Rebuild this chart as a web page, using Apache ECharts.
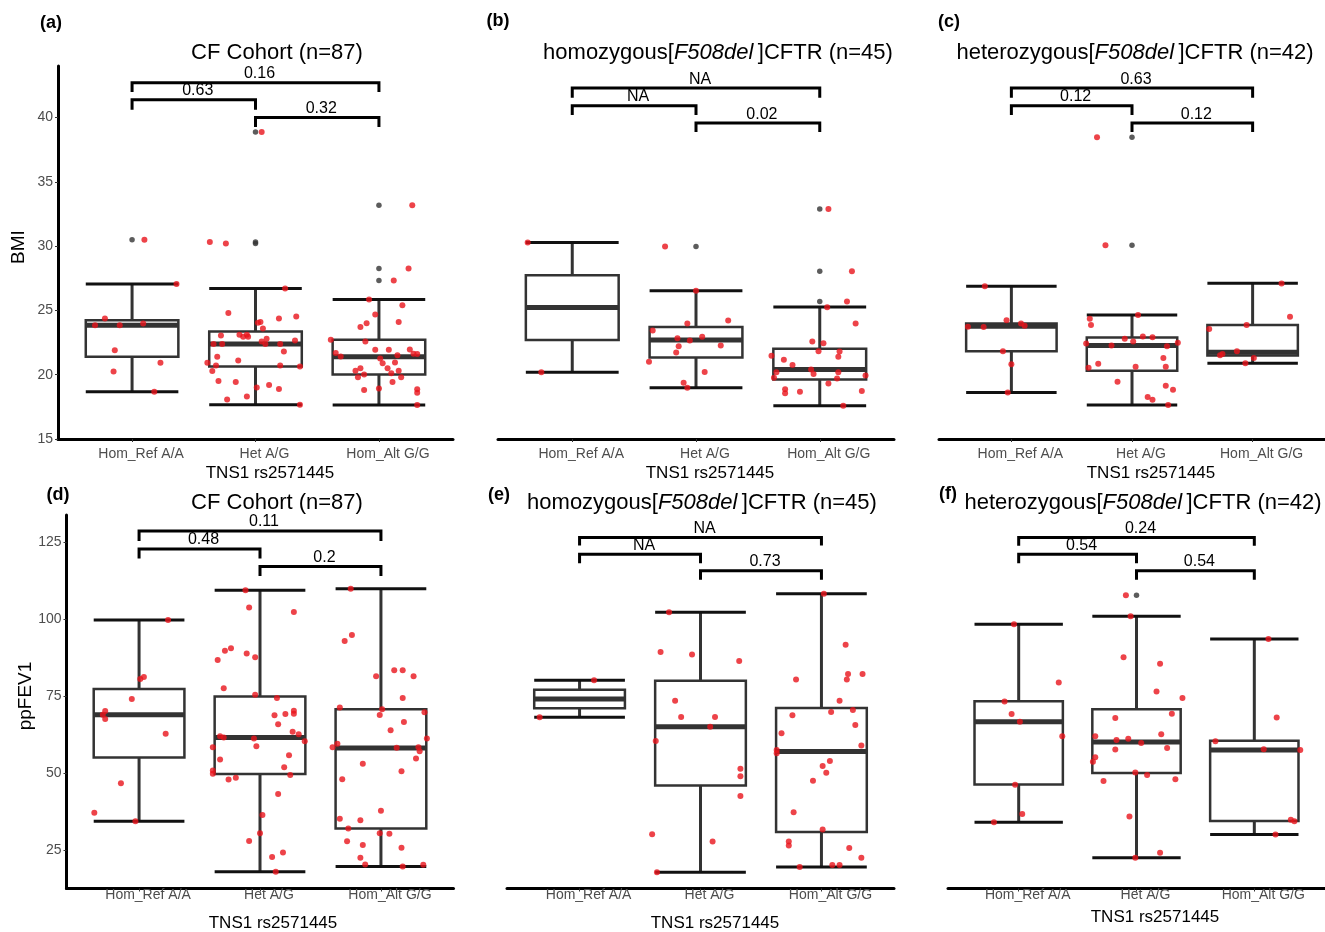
<!DOCTYPE html>
<html>
<head>
<meta charset="utf-8">
<script src="https://cdn.jsdelivr.net/npm/echarts@6/dist/echarts.min.js"></script>
<style>
  html, body { margin: 0; padding: 0; background: #fff; }
  #chart { width: 1325px; height: 932px; }
</style>
</head>
<body>
<div id="chart"></div>
<script>
// genotype groups of TNS1 rs2571445 (x = 1, 2, 3)
const groups = ['Hom_Ref A/A', 'Het A/G', 'Hom_Alt G/G'];
const bmiTicks = [15, 20, 25, 30, 35, 40];
const fevTicks = [25, 50, 75, 100, 125];

// box stats per group: [lower whisker, Q1, median, Q3, upper whisker]
// (a) BMI, CF cohort
const bmiAllBox = [[18.67, 21.39, 23.85, 24.24, 27.06], [17.66, 20.64, 22.38, 23.36, 26.7], [17.64, 20.02, 21.39, 22.71, 25.85]];
const bmiAllOut = [[1, 30.5], [2, 38.86], [2, 30.2], [2, 30.32], [3, 33.17], [3, 28.25], [3, 27.32]];
const bmiAllPts = [
  [1.10, 30.5], [1.36, 27.06], [0.78, 24.37], [0.70, 23.85], [0.90, 23.85], [1.09, 23.98], [0.86, 21.9], [0.85, 20.25], [1.23, 20.93], [1.18, 18.67],
  [2.05, 38.86], [1.63, 30.32], [1.76, 30.2], [2.24, 26.7], [1.78, 24.8], [2.33, 24.52], [2.19, 24.37], [2.02, 24.03], [2.04, 24.1], [2.06, 23.6],
  [1.72, 23.05], [1.87, 23.1], [1.90, 22.95], [1.93, 23.1], [1.94, 22.95], [2.09, 22.8], [2.32, 22.66], [1.66, 22.38], [1.73, 22.38], [2.05, 22.58],
  [2.08, 22.38], [2.20, 22.38], [2.23, 21.8], [1.69, 21.39], [1.86, 21.1], [1.61, 20.93], [1.68, 20.72], [2.20, 20.72], [2.36, 20.64], [1.65, 20.28],
  [1.70, 19.5], [1.84, 19.43], [2.01, 19.01], [2.11, 19.19], [2.19, 18.88], [1.93, 18.31], [1.77, 18.08], [2.36, 17.66],
  [3.27, 33.17], [3.24, 28.25], [3.12, 27.32], [2.92, 25.85], [3.19, 25.4], [2.97, 24.68], [2.90, 24.0], [3.16, 24.1], [2.85, 23.7], [2.61, 22.71],
  [2.89, 22.58], [2.97, 21.93], [3.08, 21.93], [3.25, 21.96], [2.65, 21.68], [2.69, 21.42], [3.15, 21.52], [3.28, 21.62], [3.31, 21.6], [3.01, 21.26],
  [3.03, 20.88], [3.13, 20.95], [2.85, 20.51], [2.81, 20.3], [3.07, 20.51], [3.16, 20.3], [2.83, 19.81], [2.88, 20.02], [3.10, 20.12], [3.18, 19.81],
  [2.88, 18.8], [3.00, 18.93], [3.11, 19.43], [3.31, 18.86], [3.31, 18.6], [3.31, 17.64]
];
// brackets: [from, to, bar y, tip y, p label]
const bmiAllSig = [[1, 3, 42.7, 41.97, '0.16'], [1, 2, 41.37, 40.6, '0.63'], [2, 3, 40.0, 39.25, '0.32']];

// (b) BMI, homozygous F508del
const bmiHomBox = [[20.18, 22.69, 25.22, 27.73, 30.27], [18.98, 21.34, 22.69, 23.7, 26.52], [17.59, 19.63, 20.41, 22.01, 25.27]];
const bmiHomOut = [[2, 29.96], [3, 32.88], [3, 28.04], [3, 25.69]];
const bmiHomPts = [
  [0.64, 30.27], [0.75, 20.18],
  [1.75, 29.96], [2.0, 26.52], [2.26, 24.21], [1.93, 23.98], [1.65, 23.44], [1.85, 22.84], [1.95, 22.66], [2.05, 22.95], [2.20, 22.27], [1.86, 22.22],
  [1.84, 21.73], [1.62, 21.0], [2.07, 20.2], [1.90, 19.37], [1.93, 18.98],
  [3.07, 32.88], [3.26, 28.04], [3.22, 25.69], [3.06, 25.25], [3.29, 23.98], [2.94, 22.58], [3.03, 22.45], [2.99, 21.83], [3.16, 21.8], [2.61, 21.47],
  [3.15, 21.39], [2.71, 21.16], [2.78, 20.75], [2.93, 20.41], [2.95, 20.05], [2.65, 20.18], [3.15, 20.18], [3.37, 19.94], [2.63, 19.76], [3.14, 19.71],
  [3.07, 19.32], [2.72, 18.86], [2.72, 18.55], [2.84, 18.67], [3.34, 18.73], [3.19, 17.59]
];
const bmiHomSig = [[1, 3, 42.28, 41.53, 'NA'], [1, 2, 40.9, 40.2, 'NA'], [2, 3, 39.56, 38.86, '0.02']];

// (c) BMI, heterozygous F508del
const bmiHetBox = [[18.62, 21.83, 23.77, 23.98, 26.88], [17.64, 20.3, 22.27, 22.9, 24.65], [20.88, 21.49, 21.75, 23.87, 27.11]];
const bmiHetOut = [[2, 38.47], [2, 30.06]];
const bmiHetPts = [
  [0.78, 26.88], [0.64, 23.72], [0.77, 23.7], [0.96, 24.24], [1.08, 23.98], [1.11, 23.8], [0.93, 21.83], [1.0, 20.82], [0.97, 18.62],
  [1.71, 38.47], [1.78, 30.06], [2.05, 24.65], [1.65, 24.34], [1.66, 23.87], [1.94, 22.79], [2.01, 22.58], [2.09, 22.97], [2.17, 22.92], [1.62, 22.43],
  [1.83, 22.27], [2.29, 22.22], [2.38, 22.48], [2.26, 21.29], [1.72, 20.85], [1.64, 20.54], [2.03, 20.61], [2.28, 20.61], [1.88, 19.45], [2.28, 19.14],
  [2.34, 18.83], [2.13, 18.26], [2.17, 18.05], [2.30, 17.64],
  [3.24, 27.09], [3.31, 24.5], [2.95, 23.87], [2.64, 23.56], [2.87, 21.83], [2.73, 21.52], [2.75, 21.6], [3.01, 21.29], [2.94, 20.88]
];
const bmiHetSig = [[1, 3, 42.28, 41.53, '0.63'], [1, 2, 40.9, 40.2, '0.12'], [2, 3, 39.56, 38.86, '0.12']];

// (d) ppFEV1, CF cohort
const fevAllBox = [[34.5, 55.1, 69.0, 77.3, 99.7], [18.1, 49.8, 61.6, 74.9, 109.3], [19.8, 32.1, 58.2, 70.8, 109.8]];
const fevAllOut = [];
const fevAllPts = [
  [1.24, 99.7], [1.04, 81.25], [1.01, 80.6], [0.94, 74.1], [0.72, 70.2], [0.70, 69.0], [0.72, 67.6], [1.22, 62.8], [0.85, 46.8], [0.63, 37.2], [0.97, 34.5],
  [1.88, 109.3], [1.91, 103.7], [2.28, 102.3], [1.76, 90.5], [1.71, 89.7], [1.89, 88.8], [1.96, 87.6], [1.65, 86.7], [1.70, 77.6], [1.96, 75.5],
  [2.14, 74.4], [2.28, 70.3], [2.12, 68.8], [2.21, 69.2], [2.28, 69.3], [2.15, 65.9], [2.27, 63.5], [2.32, 62.7], [1.67, 62.0], [1.70, 61.6],
  [1.95, 61.3], [2.37, 60.4], [1.61, 58.5], [1.97, 58.8], [1.67, 54.5], [2.24, 55.9], [2.20, 52.0], [1.61, 50.9], [1.61, 49.9], [2.25, 49.5],
  [1.74, 48.0], [1.80, 48.6], [2.15, 43.3], [2.02, 36.5], [2.0, 30.6], [1.91, 28.1], [2.10, 22.9], [2.19, 24.4], [2.13, 18.1],
  [2.75, 109.8], [2.76, 94.8], [2.70, 92.9], [2.96, 81.5], [3.11, 83.4], [3.18, 83.4], [3.27, 81.5], [3.18, 74.4], [2.66, 71.3], [3.01, 70.8],
  [2.99, 68.9], [3.36, 69.8], [3.19, 66.6], [3.08, 64.0], [3.38, 61.3], [2.60, 58.5], [2.64, 59.6], [3.13, 58.3], [3.31, 58.5], [3.32, 57.2],
  [3.29, 54.8], [2.85, 53.1], [3.17, 50.7], [2.68, 48.1], [3.0, 37.9], [2.66, 35.3], [2.83, 34.8], [2.73, 32.1], [2.99, 30.6], [3.07, 30.4],
  [2.72, 28.0], [2.85, 26.8], [3.17, 25.9], [2.83, 22.7], [2.87, 20.5], [3.18, 19.8], [3.35, 20.4]
];
const fevAllSig = [[1, 3, 128.5, 125.3, '0.11'], [1, 2, 122.7, 119.6, '0.48'], [2, 3, 117.0, 113.9, '0.2']];

// (e) ppFEV1, homozygous F508del
const fevHomBox = [[68.2, 71.1, 74.1, 77.1, 80.2], [18.0, 46.1, 65.1, 80.0, 102.2], [19.7, 31.0, 57.1, 71.2, 108.2]];
const fevHomOut = [];
const fevHomPts = [
  [1.12, 80.2], [0.67, 68.2],
  [1.74, 102.2], [1.67, 89.3], [1.93, 88.5], [2.32, 86.4], [1.79, 73.5], [1.84, 68.3], [2.12, 68.3], [2.08, 65.1], [1.63, 60.5], [2.33, 51.5],
  [2.33, 49.1], [2.33, 42.7], [1.60, 30.3], [2.10, 27.9], [1.64, 18.0],
  [3.02, 108.2], [3.20, 91.7], [3.22, 82.2], [3.34, 82.2], [3.21, 80.4], [2.79, 80.4], [3.15, 73.5], [3.08, 69.9], [3.26, 70.5], [2.76, 68.8],
  [3.28, 65.7], [2.67, 63.0], [3.33, 59.0], [2.63, 57.6], [2.63, 56.5], [3.07, 54.0], [3.01, 52.4], [3.04, 50.2], [2.93, 47.6], [2.77, 37.4],
  [3.01, 31.8], [2.73, 27.9], [2.73, 26.6], [3.23, 25.8], [3.33, 22.7], [2.82, 19.7], [3.09, 20.3], [3.15, 20.3]
];
const fevHomSig = [[1, 3, 126.4, 123.8, 'NA'], [1, 2, 121.0, 118.1, 'NA'], [2, 3, 115.6, 112.7, '0.73']];

// (f) ppFEV1, heterozygous F508del
const fevHetBox = [[34.2, 46.4, 66.7, 73.4, 98.3], [22.7, 50.1, 60.2, 70.8, 100.9], [30.2, 34.6, 57.6, 60.6, 93.5]];
const fevHetOut = [[2, 107.7]];
const fevHetPts = [
  [0.96, 98.3], [1.34, 79.4], [0.88, 73.3], [0.94, 69.2], [1.01, 66.7], [1.37, 62.0], [0.97, 46.3], [1.03, 36.8], [0.79, 34.2],
  [1.91, 107.7], [1.95, 100.9], [1.89, 87.6], [2.20, 85.5], [2.17, 76.5], [2.39, 74.4], [2.30, 69.3], [1.82, 67.9], [1.65, 62.0], [2.21, 62.7],
  [1.83, 60.8], [1.93, 61.2], [2.04, 59.8], [1.82, 57.7], [2.26, 58.2], [1.65, 55.2], [1.63, 53.8], [1.99, 50.3], [2.09, 49.5], [1.72, 47.5],
  [2.33, 48.1], [1.94, 36.0], [2.20, 24.3], [1.99, 22.7],
  [3.12, 93.5], [3.19, 68.1], [2.67, 60.4], [3.08, 57.8], [3.39, 57.6], [3.31, 35.0], [3.34, 34.5], [3.18, 30.2]
];
const fevHetSig = [[1, 3, 126.4, 123.7, '0.24'], [1, 2, 121.0, 118.1, '0.54'], [2, 3, 115.6, 112.7, '0.54']];

const FONT = '"Liberation Sans", Arial, Helvetica, sans-serif';
const RED = '#e8141c';

const panels = [
  { box: bmiAllBox, out: bmiAllOut, pts: bmiAllPts, sig: bmiAllSig, grid: { left: 58, top: 66, width: 395, height: 373 }, y: [15, 44], ticks: bmiTicks, showY: true, labelMargin: 8 },
  { box: bmiHomBox, out: bmiHomOut, pts: bmiHomPts, sig: bmiHomSig, grid: { left: 498, top: 66, width: 396, height: 373 }, y: [15, 44], ticks: bmiTicks, showY: false, labelMargin: 8 },
  { box: bmiHetBox, out: bmiHetOut, pts: bmiHetPts, sig: bmiHetSig, grid: { left: 939, top: 66, width: 395, height: 373 }, y: [15, 44], ticks: bmiTicks, showY: false, labelMargin: 8 },
  { box: fevAllBox, out: fevAllOut, pts: fevAllPts, sig: fevAllSig, grid: { left: 66.5, top: 515, width: 387, height: 373.5 }, y: [12.7, 133.7], ticks: fevTicks, showY: true, labelMargin: 0 },
  { box: fevHomBox, out: fevHomOut, pts: fevHomPts, sig: fevHomSig, grid: { left: 507, top: 515, width: 387, height: 373.5 }, y: [12.7, 133.7], ticks: fevTicks, showY: false, labelMargin: 0 },
  { box: fevHetBox, out: fevHetOut, pts: fevHetPts, sig: fevHetSig, grid: { left: 948, top: 515, width: 387, height: 373.5 }, y: [12.7, 133.7], ticks: fevTicks, showY: false, labelMargin: 0 }
];

function renderBox(params, api) {
  const x = api.value(0);
  const half = 0.375;
  const lo = api.coord([x, api.value(1)]);
  const q1 = api.coord([x, api.value(2)]);
  const med = api.coord([x, api.value(3)]);
  const q3 = api.coord([x, api.value(4)]);
  const hi = api.coord([x, api.value(5)]);
  const xl = api.coord([x - half, api.value(3)])[0];
  const xr = api.coord([x + half, api.value(3)])[0];
  return {
    type: 'group',
    children: [
      { type: 'line', shape: { x1: lo[0], y1: lo[1], x2: hi[0], y2: hi[1] }, style: { stroke: '#333', lineWidth: 3 } },
      { type: 'line', shape: { x1: xl, y1: lo[1], x2: xr, y2: lo[1] }, style: { stroke: '#111', lineWidth: 3 } },
      { type: 'line', shape: { x1: xl, y1: hi[1], x2: xr, y2: hi[1] }, style: { stroke: '#111', lineWidth: 3 } },
      { type: 'rect', shape: { x: xl, y: q3[1], width: xr - xl, height: q1[1] - q3[1] }, style: { fill: '#fff', stroke: '#333', lineWidth: 2.5 } },
      { type: 'line', shape: { x1: xl, y1: med[1], x2: xr, y2: med[1] }, style: { stroke: '#333', lineWidth: 5 } }
    ]
  };
}

function makeSigRenderer(sig) {
  return function (params, api) {
    const a = api.coord([api.value(0), api.value(2)]);
    const b = api.coord([api.value(1), api.value(2)]);
    const ta = api.coord([api.value(0), api.value(3)]);
    const tb = api.coord([api.value(1), api.value(3)]);
    return {
      type: 'group',
      children: [
        { type: 'polyline', shape: { points: [ta, a, b, tb] }, style: { stroke: '#000', lineWidth: 3, fill: null, lineJoin: 'miter' } },
        { type: 'text', x: (a[0] + b[0]) / 2 + 4, y: a[1] - 1, style: { text: sig[params.dataIndex][4], fill: '#000', font: '16px ' + FONT, align: 'center', verticalAlign: 'bottom' } }
      ]
    };
  };
}

const grid = [], xAxis = [], yAxis = [], series = [];
panels.forEach((p, i) => {
  grid.push(p.grid);
  xAxis.push({
    type: 'value', gridIndex: i, min: 0.4, max: 3.6,
    axisLine: { show: true, onZero: false, lineStyle: { color: '#000', width: 3 } },
    axisTick: { show: true, customValues: [1, 2, 3], length: 3, lineStyle: { color: '#333', width: 1 } },
    axisLabel: { customValues: [1, 2, 3], formatter: v => groups[Math.round(v) - 1], color: '#4d4d4d', fontSize: 14, fontFamily: FONT, margin: p.labelMargin, padding: [0, 0, 0, 18] },
    splitLine: { show: false }
  });
  yAxis.push({
    type: 'value', gridIndex: i, min: p.y[0], max: p.y[1], show: p.showY,
    axisLine: { show: true, onZero: false, lineStyle: { color: '#000', width: 3 } },
    axisTick: { show: true, customValues: p.ticks, length: 3, lineStyle: { color: '#333', width: 1 } },
    axisLabel: { customValues: p.ticks, color: '#4d4d4d', fontSize: 14, fontFamily: FONT, margin: 5 },
    splitLine: { show: false }
  });
  series.push({
    type: 'custom', xAxisIndex: i, yAxisIndex: i, z: 2,
    data: p.box.map((b, k) => [k + 1].concat(b)),
    renderItem: renderBox
  });
  series.push({
    type: 'scatter', xAxisIndex: i, yAxisIndex: i, z: 3,
    data: p.out, symbol: 'circle', symbolSize: 5.5, itemStyle: { color: '#333' }, silent: true
  });
  series.push({
    type: 'scatter', xAxisIndex: i, yAxisIndex: i, z: 4,
    data: p.pts, symbol: 'circle', symbolSize: 6, itemStyle: { color: RED }, silent: true
  });
  series.push({
    type: 'custom', xAxisIndex: i, yAxisIndex: i, z: 5,
    data: p.sig.map(s => s.slice(0, 4)),
    renderItem: makeSigRenderer(p.sig)
  });
});

function txt(x, y, text, font, extra) {
  return Object.assign({ type: 'text', x: x, y: y, style: { text: text, font: font + ' ' + FONT, fill: '#000', align: 'center', verticalAlign: 'middle' } }, extra || {});
}
function richTitle(x, y, before, after) {
  return {
    type: 'text', x: x, y: y,
    style: {
      text: '{n|' + before + '}{i|F508del\u2009}{n|' + after + '}',
      align: 'center', verticalAlign: 'middle',
      rich: {
        n: { font: '22px ' + FONT, fill: '#000' },
        i: { font: 'italic 22px ' + FONT, fill: '#000' }
      }
    }
  };
}

const graphic = [
  txt(51, 23, '(a)', 'bold 18px'), txt(498, 21, '(b)', 'bold 18px'), txt(949, 22, '(c)', 'bold 18px'),
  txt(58, 495, '(d)', 'bold 18px'), txt(499, 495, '(e)', 'bold 18px'), txt(948, 494, '(f)', 'bold 18px'),
  txt(277, 53, 'CF Cohort (n=87)', '22px'),
  richTitle(718, 53, 'homozygous[', ']CFTR (n=45)'),
  richTitle(1135, 53, 'heterozygous[', ']CFTR (n=42)'),
  txt(277, 503, 'CF Cohort (n=87)', '22px'),
  richTitle(702, 503, 'homozygous[', ']CFTR (n=45)'),
  richTitle(1143, 503, 'heterozygous[', ']CFTR (n=42)'),
  txt(270, 473, 'TNS1 rs2571445', '17px'), txt(710, 473, 'TNS1 rs2571445', '17px'), txt(1151, 473, 'TNS1 rs2571445', '17px'),
  txt(273, 923, 'TNS1 rs2571445', '17px'), txt(715, 923, 'TNS1 rs2571445', '17px'), txt(1155, 917, 'TNS1 rs2571445', '17px'),
  txt(19, 247, 'BMI', '19px', { rotation: Math.PI / 2 }),
  txt(26, 696, 'ppFEV1', '19px', { rotation: Math.PI / 2 })
];

const myChart = echarts.init(document.getElementById('chart'), null, { renderer: 'canvas' });
myChart.setOption({
  backgroundColor: '#fff',
  animation: false,
  grid: grid,
  xAxis: xAxis,
  yAxis: yAxis,
  series: series,
  graphic: graphic
});
window.addEventListener('resize', () => myChart.resize());
</script>
</body>
</html>
